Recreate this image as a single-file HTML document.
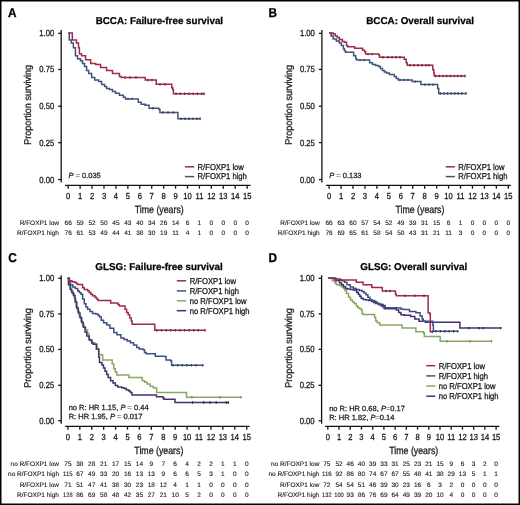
<!DOCTYPE html>
<html><head><meta charset="utf-8"><style>
html,body{margin:0;padding:0;background:#fff;width:520px;height:505px;overflow:hidden}
svg text{font-family:"Liberation Sans", sans-serif; text-rendering:geometricPrecision}
</style></head><body>
<svg width="520" height="505" viewBox="0 0 520 505" style="display:block;filter:blur(0.3px)">
<g font-family='"Liberation Sans", sans-serif' stroke-width="0.25">
<rect x="0" y="0" width="520" height="505" fill="#fff"/>
<text x="0.00" y="0.00" font-size="11.8" font-weight="bold" fill="#000" stroke="#000" transform="translate(7.90,16.60) scale(1,1.08)">A</text>
<text x="0.00" y="0.00" font-size="11.8" font-weight="bold" fill="#000" stroke="#000" transform="translate(268.60,16.60) scale(1,1.08)">B</text>
<text x="0.00" y="0.00" font-size="11.8" font-weight="bold" fill="#000" stroke="#000" transform="translate(8.30,261.60) scale(1,1.08)">C</text>
<text x="0.00" y="0.00" font-size="11.8" font-weight="bold" fill="#000" stroke="#000" transform="translate(268.60,261.60) scale(1,1.08)">D</text>
<text x="95.70" y="24.40" font-size="9.9" font-weight="bold" fill="#000" stroke="#000" textLength="127.4" lengthAdjust="spacingAndGlyphs">BCCA: Failure-free survival</text>
<text x="366.20" y="24.40" font-size="9.9" font-weight="bold" fill="#000" stroke="#000" textLength="107.8" lengthAdjust="spacingAndGlyphs">BCCA: Overall survival</text>
<text x="95.30" y="269.50" font-size="9.9" font-weight="bold" fill="#000" stroke="#000" textLength="127.4" lengthAdjust="spacingAndGlyphs">GLSG: Failure-free survival</text>
<text x="360.30" y="269.50" font-size="9.9" font-weight="bold" fill="#000" stroke="#000" textLength="106.9" lengthAdjust="spacingAndGlyphs">GLSG: Overall survival</text>
<line x1="61.2" y1="30.1" x2="61.2" y2="182.5" stroke="#111" stroke-width="1.3"/>
<line x1="58.2" y1="179.55" x2="61.2" y2="179.55" stroke="#111" stroke-width="1.3"/>
<text x="0.00" y="0.00" font-size="7.7" text-anchor="end" fill="#1a1a1a" stroke="#1a1a1a" transform="translate(54.20,182.55) scale(1,1.15)">0.00</text>
<line x1="58.2" y1="142.65" x2="61.2" y2="142.65" stroke="#111" stroke-width="1.3"/>
<text x="0.00" y="0.00" font-size="7.7" text-anchor="end" fill="#1a1a1a" stroke="#1a1a1a" transform="translate(54.20,145.65) scale(1,1.15)">0.25</text>
<line x1="58.2" y1="106.20" x2="61.2" y2="106.20" stroke="#111" stroke-width="1.3"/>
<text x="0.00" y="0.00" font-size="7.7" text-anchor="end" fill="#1a1a1a" stroke="#1a1a1a" transform="translate(54.20,109.20) scale(1,1.15)">0.50</text>
<line x1="58.2" y1="69.45" x2="61.2" y2="69.45" stroke="#111" stroke-width="1.3"/>
<text x="0.00" y="0.00" font-size="7.7" text-anchor="end" fill="#1a1a1a" stroke="#1a1a1a" transform="translate(54.20,72.45) scale(1,1.15)">0.75</text>
<line x1="58.2" y1="33.35" x2="61.2" y2="33.35" stroke="#111" stroke-width="1.3"/>
<text x="0.00" y="0.00" font-size="7.7" text-anchor="end" fill="#1a1a1a" stroke="#1a1a1a" transform="translate(54.20,36.35) scale(1,1.15)">1.00</text>
<line x1="65.0" y1="185.45" x2="250.5" y2="185.45" stroke="#111" stroke-width="1.3"/>
<line x1="68.20" y1="185.45" x2="68.20" y2="188.64999999999998" stroke="#111" stroke-width="1.3"/>
<text x="0.00" y="0.00" font-size="7.6" text-anchor="middle" fill="#1a1a1a" stroke="#1a1a1a" transform="translate(68.20,198.85) scale(1,1.15)">0</text>
<line x1="80.13" y1="185.45" x2="80.13" y2="188.64999999999998" stroke="#111" stroke-width="1.3"/>
<text x="0.00" y="0.00" font-size="7.6" text-anchor="middle" fill="#1a1a1a" stroke="#1a1a1a" transform="translate(80.13,198.85) scale(1,1.15)">1</text>
<line x1="92.06" y1="185.45" x2="92.06" y2="188.64999999999998" stroke="#111" stroke-width="1.3"/>
<text x="0.00" y="0.00" font-size="7.6" text-anchor="middle" fill="#1a1a1a" stroke="#1a1a1a" transform="translate(92.06,198.85) scale(1,1.15)">2</text>
<line x1="103.99" y1="185.45" x2="103.99" y2="188.64999999999998" stroke="#111" stroke-width="1.3"/>
<text x="0.00" y="0.00" font-size="7.6" text-anchor="middle" fill="#1a1a1a" stroke="#1a1a1a" transform="translate(103.99,198.85) scale(1,1.15)">3</text>
<line x1="115.92" y1="185.45" x2="115.92" y2="188.64999999999998" stroke="#111" stroke-width="1.3"/>
<text x="0.00" y="0.00" font-size="7.6" text-anchor="middle" fill="#1a1a1a" stroke="#1a1a1a" transform="translate(115.92,198.85) scale(1,1.15)">4</text>
<line x1="127.85" y1="185.45" x2="127.85" y2="188.64999999999998" stroke="#111" stroke-width="1.3"/>
<text x="0.00" y="0.00" font-size="7.6" text-anchor="middle" fill="#1a1a1a" stroke="#1a1a1a" transform="translate(127.85,198.85) scale(1,1.15)">5</text>
<line x1="139.78" y1="185.45" x2="139.78" y2="188.64999999999998" stroke="#111" stroke-width="1.3"/>
<text x="0.00" y="0.00" font-size="7.6" text-anchor="middle" fill="#1a1a1a" stroke="#1a1a1a" transform="translate(139.78,198.85) scale(1,1.15)">6</text>
<line x1="151.71" y1="185.45" x2="151.71" y2="188.64999999999998" stroke="#111" stroke-width="1.3"/>
<text x="0.00" y="0.00" font-size="7.6" text-anchor="middle" fill="#1a1a1a" stroke="#1a1a1a" transform="translate(151.71,198.85) scale(1,1.15)">7</text>
<line x1="163.64" y1="185.45" x2="163.64" y2="188.64999999999998" stroke="#111" stroke-width="1.3"/>
<text x="0.00" y="0.00" font-size="7.6" text-anchor="middle" fill="#1a1a1a" stroke="#1a1a1a" transform="translate(163.64,198.85) scale(1,1.15)">8</text>
<line x1="175.57" y1="185.45" x2="175.57" y2="188.64999999999998" stroke="#111" stroke-width="1.3"/>
<text x="0.00" y="0.00" font-size="7.6" text-anchor="middle" fill="#1a1a1a" stroke="#1a1a1a" transform="translate(175.57,198.85) scale(1,1.15)">9</text>
<line x1="187.50" y1="185.45" x2="187.50" y2="188.64999999999998" stroke="#111" stroke-width="1.3"/>
<text x="0.00" y="0.00" font-size="7.6" text-anchor="middle" fill="#1a1a1a" stroke="#1a1a1a" transform="translate(187.50,198.85) scale(1,1.15)">10</text>
<line x1="199.43" y1="185.45" x2="199.43" y2="188.64999999999998" stroke="#111" stroke-width="1.3"/>
<text x="0.00" y="0.00" font-size="7.6" text-anchor="middle" fill="#1a1a1a" stroke="#1a1a1a" transform="translate(199.43,198.85) scale(1,1.15)">11</text>
<line x1="211.36" y1="185.45" x2="211.36" y2="188.64999999999998" stroke="#111" stroke-width="1.3"/>
<text x="0.00" y="0.00" font-size="7.6" text-anchor="middle" fill="#1a1a1a" stroke="#1a1a1a" transform="translate(211.36,198.85) scale(1,1.15)">12</text>
<line x1="223.29" y1="185.45" x2="223.29" y2="188.64999999999998" stroke="#111" stroke-width="1.3"/>
<text x="0.00" y="0.00" font-size="7.6" text-anchor="middle" fill="#1a1a1a" stroke="#1a1a1a" transform="translate(223.29,198.85) scale(1,1.15)">13</text>
<line x1="235.22" y1="185.45" x2="235.22" y2="188.64999999999998" stroke="#111" stroke-width="1.3"/>
<text x="0.00" y="0.00" font-size="7.6" text-anchor="middle" fill="#1a1a1a" stroke="#1a1a1a" transform="translate(235.22,198.85) scale(1,1.15)">14</text>
<line x1="247.15" y1="185.45" x2="247.15" y2="188.64999999999998" stroke="#111" stroke-width="1.3"/>
<text x="0.00" y="0.00" font-size="7.6" text-anchor="middle" fill="#1a1a1a" stroke="#1a1a1a" transform="translate(247.15,198.85) scale(1,1.15)">15</text>
<text x="0.00" y="0.00" font-size="8.8" text-anchor="middle" fill="#1a1a1a" stroke="#1a1a1a" transform="translate(159.25,212.55) scale(1,1.18)">Time (years)</text>
<text x="0" y="0" font-size="9.0" text-anchor="middle" fill="#1a1a1a" stroke="#1a1a1a" transform="translate(31.40,104.88) rotate(-90) scale(1,1.1)">Proportion surviving</text>
<line x1="321.9" y1="30.1" x2="321.9" y2="182.5" stroke="#111" stroke-width="1.3"/>
<line x1="318.9" y1="179.55" x2="321.9" y2="179.55" stroke="#111" stroke-width="1.3"/>
<text x="0.00" y="0.00" font-size="7.7" text-anchor="end" fill="#1a1a1a" stroke="#1a1a1a" transform="translate(314.90,182.55) scale(1,1.15)">0.00</text>
<line x1="318.9" y1="142.65" x2="321.9" y2="142.65" stroke="#111" stroke-width="1.3"/>
<text x="0.00" y="0.00" font-size="7.7" text-anchor="end" fill="#1a1a1a" stroke="#1a1a1a" transform="translate(314.90,145.65) scale(1,1.15)">0.25</text>
<line x1="318.9" y1="106.20" x2="321.9" y2="106.20" stroke="#111" stroke-width="1.3"/>
<text x="0.00" y="0.00" font-size="7.7" text-anchor="end" fill="#1a1a1a" stroke="#1a1a1a" transform="translate(314.90,109.20) scale(1,1.15)">0.50</text>
<line x1="318.9" y1="69.45" x2="321.9" y2="69.45" stroke="#111" stroke-width="1.3"/>
<text x="0.00" y="0.00" font-size="7.7" text-anchor="end" fill="#1a1a1a" stroke="#1a1a1a" transform="translate(314.90,72.45) scale(1,1.15)">0.75</text>
<line x1="318.9" y1="33.35" x2="321.9" y2="33.35" stroke="#111" stroke-width="1.3"/>
<text x="0.00" y="0.00" font-size="7.7" text-anchor="end" fill="#1a1a1a" stroke="#1a1a1a" transform="translate(314.90,36.35) scale(1,1.15)">1.00</text>
<line x1="325.9" y1="185.45" x2="510.9" y2="185.45" stroke="#111" stroke-width="1.3"/>
<line x1="329.10" y1="185.45" x2="329.10" y2="188.64999999999998" stroke="#111" stroke-width="1.3"/>
<text x="0.00" y="0.00" font-size="7.6" text-anchor="middle" fill="#1a1a1a" stroke="#1a1a1a" transform="translate(329.10,198.85) scale(1,1.15)">0</text>
<line x1="341.05" y1="185.45" x2="341.05" y2="188.64999999999998" stroke="#111" stroke-width="1.3"/>
<text x="0.00" y="0.00" font-size="7.6" text-anchor="middle" fill="#1a1a1a" stroke="#1a1a1a" transform="translate(341.05,198.85) scale(1,1.15)">1</text>
<line x1="352.99" y1="185.45" x2="352.99" y2="188.64999999999998" stroke="#111" stroke-width="1.3"/>
<text x="0.00" y="0.00" font-size="7.6" text-anchor="middle" fill="#1a1a1a" stroke="#1a1a1a" transform="translate(352.99,198.85) scale(1,1.15)">2</text>
<line x1="364.94" y1="185.45" x2="364.94" y2="188.64999999999998" stroke="#111" stroke-width="1.3"/>
<text x="0.00" y="0.00" font-size="7.6" text-anchor="middle" fill="#1a1a1a" stroke="#1a1a1a" transform="translate(364.94,198.85) scale(1,1.15)">3</text>
<line x1="376.89" y1="185.45" x2="376.89" y2="188.64999999999998" stroke="#111" stroke-width="1.3"/>
<text x="0.00" y="0.00" font-size="7.6" text-anchor="middle" fill="#1a1a1a" stroke="#1a1a1a" transform="translate(376.89,198.85) scale(1,1.15)">4</text>
<line x1="388.84" y1="185.45" x2="388.84" y2="188.64999999999998" stroke="#111" stroke-width="1.3"/>
<text x="0.00" y="0.00" font-size="7.6" text-anchor="middle" fill="#1a1a1a" stroke="#1a1a1a" transform="translate(388.84,198.85) scale(1,1.15)">5</text>
<line x1="400.78" y1="185.45" x2="400.78" y2="188.64999999999998" stroke="#111" stroke-width="1.3"/>
<text x="0.00" y="0.00" font-size="7.6" text-anchor="middle" fill="#1a1a1a" stroke="#1a1a1a" transform="translate(400.78,198.85) scale(1,1.15)">6</text>
<line x1="412.73" y1="185.45" x2="412.73" y2="188.64999999999998" stroke="#111" stroke-width="1.3"/>
<text x="0.00" y="0.00" font-size="7.6" text-anchor="middle" fill="#1a1a1a" stroke="#1a1a1a" transform="translate(412.73,198.85) scale(1,1.15)">7</text>
<line x1="424.68" y1="185.45" x2="424.68" y2="188.64999999999998" stroke="#111" stroke-width="1.3"/>
<text x="0.00" y="0.00" font-size="7.6" text-anchor="middle" fill="#1a1a1a" stroke="#1a1a1a" transform="translate(424.68,198.85) scale(1,1.15)">8</text>
<line x1="436.62" y1="185.45" x2="436.62" y2="188.64999999999998" stroke="#111" stroke-width="1.3"/>
<text x="0.00" y="0.00" font-size="7.6" text-anchor="middle" fill="#1a1a1a" stroke="#1a1a1a" transform="translate(436.62,198.85) scale(1,1.15)">9</text>
<line x1="448.57" y1="185.45" x2="448.57" y2="188.64999999999998" stroke="#111" stroke-width="1.3"/>
<text x="0.00" y="0.00" font-size="7.6" text-anchor="middle" fill="#1a1a1a" stroke="#1a1a1a" transform="translate(448.57,198.85) scale(1,1.15)">10</text>
<line x1="460.52" y1="185.45" x2="460.52" y2="188.64999999999998" stroke="#111" stroke-width="1.3"/>
<text x="0.00" y="0.00" font-size="7.6" text-anchor="middle" fill="#1a1a1a" stroke="#1a1a1a" transform="translate(460.52,198.85) scale(1,1.15)">11</text>
<line x1="472.46" y1="185.45" x2="472.46" y2="188.64999999999998" stroke="#111" stroke-width="1.3"/>
<text x="0.00" y="0.00" font-size="7.6" text-anchor="middle" fill="#1a1a1a" stroke="#1a1a1a" transform="translate(472.46,198.85) scale(1,1.15)">12</text>
<line x1="484.41" y1="185.45" x2="484.41" y2="188.64999999999998" stroke="#111" stroke-width="1.3"/>
<text x="0.00" y="0.00" font-size="7.6" text-anchor="middle" fill="#1a1a1a" stroke="#1a1a1a" transform="translate(484.41,198.85) scale(1,1.15)">13</text>
<line x1="496.36" y1="185.45" x2="496.36" y2="188.64999999999998" stroke="#111" stroke-width="1.3"/>
<text x="0.00" y="0.00" font-size="7.6" text-anchor="middle" fill="#1a1a1a" stroke="#1a1a1a" transform="translate(496.36,198.85) scale(1,1.15)">14</text>
<line x1="508.31" y1="185.45" x2="508.31" y2="188.64999999999998" stroke="#111" stroke-width="1.3"/>
<text x="0.00" y="0.00" font-size="7.6" text-anchor="middle" fill="#1a1a1a" stroke="#1a1a1a" transform="translate(508.31,198.85) scale(1,1.15)">15</text>
<text x="0.00" y="0.00" font-size="8.8" text-anchor="middle" fill="#1a1a1a" stroke="#1a1a1a" transform="translate(419.90,212.55) scale(1,1.18)">Time (years)</text>
<text x="0" y="0" font-size="9.0" text-anchor="middle" fill="#1a1a1a" stroke="#1a1a1a" transform="translate(292.10,104.88) rotate(-90) scale(1,1.1)">Proportion surviving</text>
<line x1="61.2" y1="275.2" x2="61.2" y2="423.7" stroke="#111" stroke-width="1.3"/>
<line x1="58.2" y1="420.75" x2="61.2" y2="420.75" stroke="#111" stroke-width="1.3"/>
<text x="0.00" y="0.00" font-size="7.7" text-anchor="end" fill="#1a1a1a" stroke="#1a1a1a" transform="translate(54.20,423.75) scale(1,1.15)">0.00</text>
<line x1="58.2" y1="385.30" x2="61.2" y2="385.30" stroke="#111" stroke-width="1.3"/>
<text x="0.00" y="0.00" font-size="7.7" text-anchor="end" fill="#1a1a1a" stroke="#1a1a1a" transform="translate(54.20,388.30) scale(1,1.15)">0.25</text>
<line x1="58.2" y1="349.40" x2="61.2" y2="349.40" stroke="#111" stroke-width="1.3"/>
<text x="0.00" y="0.00" font-size="7.7" text-anchor="end" fill="#1a1a1a" stroke="#1a1a1a" transform="translate(54.20,352.40) scale(1,1.15)">0.50</text>
<line x1="58.2" y1="313.90" x2="61.2" y2="313.90" stroke="#111" stroke-width="1.3"/>
<text x="0.00" y="0.00" font-size="7.7" text-anchor="end" fill="#1a1a1a" stroke="#1a1a1a" transform="translate(54.20,316.90) scale(1,1.15)">0.75</text>
<line x1="58.2" y1="278.30" x2="61.2" y2="278.30" stroke="#111" stroke-width="1.3"/>
<text x="0.00" y="0.00" font-size="7.7" text-anchor="end" fill="#1a1a1a" stroke="#1a1a1a" transform="translate(54.20,281.30) scale(1,1.15)">1.00</text>
<line x1="65.1" y1="426.45" x2="249.6" y2="426.45" stroke="#111" stroke-width="1.3"/>
<line x1="67.90" y1="426.45" x2="67.90" y2="429.65" stroke="#111" stroke-width="1.3"/>
<text x="0.00" y="0.00" font-size="7.6" text-anchor="middle" fill="#1a1a1a" stroke="#1a1a1a" transform="translate(67.90,439.85) scale(1,1.15)">0</text>
<line x1="79.82" y1="426.45" x2="79.82" y2="429.65" stroke="#111" stroke-width="1.3"/>
<text x="0.00" y="0.00" font-size="7.6" text-anchor="middle" fill="#1a1a1a" stroke="#1a1a1a" transform="translate(79.82,439.85) scale(1,1.15)">1</text>
<line x1="91.74" y1="426.45" x2="91.74" y2="429.65" stroke="#111" stroke-width="1.3"/>
<text x="0.00" y="0.00" font-size="7.6" text-anchor="middle" fill="#1a1a1a" stroke="#1a1a1a" transform="translate(91.74,439.85) scale(1,1.15)">2</text>
<line x1="103.66" y1="426.45" x2="103.66" y2="429.65" stroke="#111" stroke-width="1.3"/>
<text x="0.00" y="0.00" font-size="7.6" text-anchor="middle" fill="#1a1a1a" stroke="#1a1a1a" transform="translate(103.66,439.85) scale(1,1.15)">3</text>
<line x1="115.58" y1="426.45" x2="115.58" y2="429.65" stroke="#111" stroke-width="1.3"/>
<text x="0.00" y="0.00" font-size="7.6" text-anchor="middle" fill="#1a1a1a" stroke="#1a1a1a" transform="translate(115.58,439.85) scale(1,1.15)">4</text>
<line x1="127.50" y1="426.45" x2="127.50" y2="429.65" stroke="#111" stroke-width="1.3"/>
<text x="0.00" y="0.00" font-size="7.6" text-anchor="middle" fill="#1a1a1a" stroke="#1a1a1a" transform="translate(127.50,439.85) scale(1,1.15)">5</text>
<line x1="139.42" y1="426.45" x2="139.42" y2="429.65" stroke="#111" stroke-width="1.3"/>
<text x="0.00" y="0.00" font-size="7.6" text-anchor="middle" fill="#1a1a1a" stroke="#1a1a1a" transform="translate(139.42,439.85) scale(1,1.15)">6</text>
<line x1="151.34" y1="426.45" x2="151.34" y2="429.65" stroke="#111" stroke-width="1.3"/>
<text x="0.00" y="0.00" font-size="7.6" text-anchor="middle" fill="#1a1a1a" stroke="#1a1a1a" transform="translate(151.34,439.85) scale(1,1.15)">7</text>
<line x1="163.26" y1="426.45" x2="163.26" y2="429.65" stroke="#111" stroke-width="1.3"/>
<text x="0.00" y="0.00" font-size="7.6" text-anchor="middle" fill="#1a1a1a" stroke="#1a1a1a" transform="translate(163.26,439.85) scale(1,1.15)">8</text>
<line x1="175.18" y1="426.45" x2="175.18" y2="429.65" stroke="#111" stroke-width="1.3"/>
<text x="0.00" y="0.00" font-size="7.6" text-anchor="middle" fill="#1a1a1a" stroke="#1a1a1a" transform="translate(175.18,439.85) scale(1,1.15)">9</text>
<line x1="187.10" y1="426.45" x2="187.10" y2="429.65" stroke="#111" stroke-width="1.3"/>
<text x="0.00" y="0.00" font-size="7.6" text-anchor="middle" fill="#1a1a1a" stroke="#1a1a1a" transform="translate(187.10,439.85) scale(1,1.15)">10</text>
<line x1="199.02" y1="426.45" x2="199.02" y2="429.65" stroke="#111" stroke-width="1.3"/>
<text x="0.00" y="0.00" font-size="7.6" text-anchor="middle" fill="#1a1a1a" stroke="#1a1a1a" transform="translate(199.02,439.85) scale(1,1.15)">11</text>
<line x1="210.94" y1="426.45" x2="210.94" y2="429.65" stroke="#111" stroke-width="1.3"/>
<text x="0.00" y="0.00" font-size="7.6" text-anchor="middle" fill="#1a1a1a" stroke="#1a1a1a" transform="translate(210.94,439.85) scale(1,1.15)">12</text>
<line x1="222.86" y1="426.45" x2="222.86" y2="429.65" stroke="#111" stroke-width="1.3"/>
<text x="0.00" y="0.00" font-size="7.6" text-anchor="middle" fill="#1a1a1a" stroke="#1a1a1a" transform="translate(222.86,439.85) scale(1,1.15)">13</text>
<line x1="234.78" y1="426.45" x2="234.78" y2="429.65" stroke="#111" stroke-width="1.3"/>
<text x="0.00" y="0.00" font-size="7.6" text-anchor="middle" fill="#1a1a1a" stroke="#1a1a1a" transform="translate(234.78,439.85) scale(1,1.15)">14</text>
<line x1="246.70" y1="426.45" x2="246.70" y2="429.65" stroke="#111" stroke-width="1.3"/>
<text x="0.00" y="0.00" font-size="7.6" text-anchor="middle" fill="#1a1a1a" stroke="#1a1a1a" transform="translate(246.70,439.85) scale(1,1.15)">15</text>
<text x="0.00" y="0.00" font-size="8.8" text-anchor="middle" fill="#1a1a1a" stroke="#1a1a1a" transform="translate(158.85,453.55) scale(1,1.18)">Time (years)</text>
<text x="0" y="0" font-size="9.0" text-anchor="middle" fill="#1a1a1a" stroke="#1a1a1a" transform="translate(31.40,348.00) rotate(-90) scale(1,1.1)">Proportion surviving</text>
<line x1="321.6" y1="275.2" x2="321.6" y2="423.7" stroke="#111" stroke-width="1.3"/>
<line x1="318.6" y1="420.75" x2="321.6" y2="420.75" stroke="#111" stroke-width="1.3"/>
<text x="0.00" y="0.00" font-size="7.7" text-anchor="end" fill="#1a1a1a" stroke="#1a1a1a" transform="translate(314.60,423.75) scale(1,1.15)">0.00</text>
<line x1="318.6" y1="385.30" x2="321.6" y2="385.30" stroke="#111" stroke-width="1.3"/>
<text x="0.00" y="0.00" font-size="7.7" text-anchor="end" fill="#1a1a1a" stroke="#1a1a1a" transform="translate(314.60,388.30) scale(1,1.15)">0.25</text>
<line x1="318.6" y1="349.40" x2="321.6" y2="349.40" stroke="#111" stroke-width="1.3"/>
<text x="0.00" y="0.00" font-size="7.7" text-anchor="end" fill="#1a1a1a" stroke="#1a1a1a" transform="translate(314.60,352.40) scale(1,1.15)">0.50</text>
<line x1="318.6" y1="313.90" x2="321.6" y2="313.90" stroke="#111" stroke-width="1.3"/>
<text x="0.00" y="0.00" font-size="7.7" text-anchor="end" fill="#1a1a1a" stroke="#1a1a1a" transform="translate(314.60,316.90) scale(1,1.15)">0.75</text>
<line x1="318.6" y1="278.30" x2="321.6" y2="278.30" stroke="#111" stroke-width="1.3"/>
<text x="0.00" y="0.00" font-size="7.7" text-anchor="end" fill="#1a1a1a" stroke="#1a1a1a" transform="translate(314.60,281.30) scale(1,1.15)">1.00</text>
<line x1="325.1" y1="426.45" x2="499.4" y2="426.45" stroke="#111" stroke-width="1.3"/>
<line x1="327.80" y1="426.45" x2="327.80" y2="429.65" stroke="#111" stroke-width="1.3"/>
<text x="0.00" y="0.00" font-size="7.6" text-anchor="middle" fill="#1a1a1a" stroke="#1a1a1a" transform="translate(327.80,439.85) scale(1,1.15)">0</text>
<line x1="339.02" y1="426.45" x2="339.02" y2="429.65" stroke="#111" stroke-width="1.3"/>
<text x="0.00" y="0.00" font-size="7.6" text-anchor="middle" fill="#1a1a1a" stroke="#1a1a1a" transform="translate(339.02,439.85) scale(1,1.15)">1</text>
<line x1="350.24" y1="426.45" x2="350.24" y2="429.65" stroke="#111" stroke-width="1.3"/>
<text x="0.00" y="0.00" font-size="7.6" text-anchor="middle" fill="#1a1a1a" stroke="#1a1a1a" transform="translate(350.24,439.85) scale(1,1.15)">2</text>
<line x1="361.46" y1="426.45" x2="361.46" y2="429.65" stroke="#111" stroke-width="1.3"/>
<text x="0.00" y="0.00" font-size="7.6" text-anchor="middle" fill="#1a1a1a" stroke="#1a1a1a" transform="translate(361.46,439.85) scale(1,1.15)">3</text>
<line x1="372.68" y1="426.45" x2="372.68" y2="429.65" stroke="#111" stroke-width="1.3"/>
<text x="0.00" y="0.00" font-size="7.6" text-anchor="middle" fill="#1a1a1a" stroke="#1a1a1a" transform="translate(372.68,439.85) scale(1,1.15)">4</text>
<line x1="383.90" y1="426.45" x2="383.90" y2="429.65" stroke="#111" stroke-width="1.3"/>
<text x="0.00" y="0.00" font-size="7.6" text-anchor="middle" fill="#1a1a1a" stroke="#1a1a1a" transform="translate(383.90,439.85) scale(1,1.15)">5</text>
<line x1="395.12" y1="426.45" x2="395.12" y2="429.65" stroke="#111" stroke-width="1.3"/>
<text x="0.00" y="0.00" font-size="7.6" text-anchor="middle" fill="#1a1a1a" stroke="#1a1a1a" transform="translate(395.12,439.85) scale(1,1.15)">6</text>
<line x1="406.34" y1="426.45" x2="406.34" y2="429.65" stroke="#111" stroke-width="1.3"/>
<text x="0.00" y="0.00" font-size="7.6" text-anchor="middle" fill="#1a1a1a" stroke="#1a1a1a" transform="translate(406.34,439.85) scale(1,1.15)">7</text>
<line x1="417.56" y1="426.45" x2="417.56" y2="429.65" stroke="#111" stroke-width="1.3"/>
<text x="0.00" y="0.00" font-size="7.6" text-anchor="middle" fill="#1a1a1a" stroke="#1a1a1a" transform="translate(417.56,439.85) scale(1,1.15)">8</text>
<line x1="428.78" y1="426.45" x2="428.78" y2="429.65" stroke="#111" stroke-width="1.3"/>
<text x="0.00" y="0.00" font-size="7.6" text-anchor="middle" fill="#1a1a1a" stroke="#1a1a1a" transform="translate(428.78,439.85) scale(1,1.15)">9</text>
<line x1="440.00" y1="426.45" x2="440.00" y2="429.65" stroke="#111" stroke-width="1.3"/>
<text x="0.00" y="0.00" font-size="7.6" text-anchor="middle" fill="#1a1a1a" stroke="#1a1a1a" transform="translate(440.00,439.85) scale(1,1.15)">10</text>
<line x1="451.22" y1="426.45" x2="451.22" y2="429.65" stroke="#111" stroke-width="1.3"/>
<text x="0.00" y="0.00" font-size="7.6" text-anchor="middle" fill="#1a1a1a" stroke="#1a1a1a" transform="translate(451.22,439.85) scale(1,1.15)">11</text>
<line x1="462.44" y1="426.45" x2="462.44" y2="429.65" stroke="#111" stroke-width="1.3"/>
<text x="0.00" y="0.00" font-size="7.6" text-anchor="middle" fill="#1a1a1a" stroke="#1a1a1a" transform="translate(462.44,439.85) scale(1,1.15)">12</text>
<line x1="473.66" y1="426.45" x2="473.66" y2="429.65" stroke="#111" stroke-width="1.3"/>
<text x="0.00" y="0.00" font-size="7.6" text-anchor="middle" fill="#1a1a1a" stroke="#1a1a1a" transform="translate(473.66,439.85) scale(1,1.15)">13</text>
<line x1="484.88" y1="426.45" x2="484.88" y2="429.65" stroke="#111" stroke-width="1.3"/>
<text x="0.00" y="0.00" font-size="7.6" text-anchor="middle" fill="#1a1a1a" stroke="#1a1a1a" transform="translate(484.88,439.85) scale(1,1.15)">14</text>
<line x1="496.10" y1="426.45" x2="496.10" y2="429.65" stroke="#111" stroke-width="1.3"/>
<text x="0.00" y="0.00" font-size="7.6" text-anchor="middle" fill="#1a1a1a" stroke="#1a1a1a" transform="translate(496.10,439.85) scale(1,1.15)">15</text>
<text x="0.00" y="0.00" font-size="8.8" text-anchor="middle" fill="#1a1a1a" stroke="#1a1a1a" transform="translate(413.75,453.55) scale(1,1.18)">Time (years)</text>
<text x="0" y="0" font-size="9.0" text-anchor="middle" fill="#1a1a1a" stroke="#1a1a1a" transform="translate(291.80,348.00) rotate(-90) scale(1,1.1)">Proportion surviving</text>
<path d="M68.30,32.95H69.27V39.90H71.33V42.90H73.38V47.80H75.43V55.70H77.48V58.70H80.46V60.70H82.51V63.60H84.56V66.60H86.61V70.60H88.67V73.50H91.64V77.50H94.70V79.90H98.70V81.50H101.60V84.40H104.60V86.40H106.60V88.40H109.50V89.40H112.50V91.40H115.50V93.30H119.40V95.30H123.40V97.30H125.40V98.90H135.30V98.90H138.30V102.30H141.20V104.20H145.20V105.20H149.10V108.20H158.90V109.50H159.90V112.50H177.70V112.50H177.90V118.80H200.50V118.80" fill="none" stroke="#42527a" stroke-width="1.5" stroke-linejoin="miter"/>
<path d="M68.30,32.95H71.33V32.95H72.35V39.90H75.43V39.90H76.46V42.90H78.51V47.80H79.43V53.70H81.48V55.70H85.59V59.70H89.59V59.70H90.62V63.60H95.70V64.60H100.60V67.60H106.60V70.60H112.50V73.50H119.40V76.50H121.40V77.50H143.20V77.50H145.20V80.00H155.90V80.00H156.20V84.20H171.40V84.20H171.80V87.70H172.80V89.70H173.40V93.70H204.50V93.70" fill="none" stroke="#a02a4a" stroke-width="1.5" stroke-linejoin="miter"/>
<path d="M329.10,32.95H331.12V35.90H333.18V38.90H336.29V40.90H339.39V42.90H341.35V45.40H343.42V48.80H344.45V50.80H345.49V52.20H352.62V52.20H353.66V55.70H355.70V58.70H356.70V60.10H367.60V60.10H369.60V62.70H372.50V64.60H375.50V65.60H378.50V66.60H380.40V68.60H382.40V70.60H384.40V72.00H386.40V73.10H389.40V74.50H393.30V74.50H394.30V76.50H396.30V78.50H398.30V79.90H410.10V79.90H412.10V81.60H419.90V81.60H420.90V84.60H436.70V84.60H437.70V88.50H438.70V93.50H466.40V93.50" fill="none" stroke="#42527a" stroke-width="1.5" stroke-linejoin="miter"/>
<path d="M329.10,32.95H333.18V33.90H335.25V35.90H337.32V37.50H339.39V39.50H342.39V41.50H344.45V42.30H346.52V45.40H347.56V46.80H353.66V46.80H354.69V48.20H360.60V48.20H362.60V50.20H364.60V51.80H365.60V54.10H378.50V54.70H379.50V57.30H403.20V57.30H404.20V59.30H406.20V62.70H407.20V65.20H432.20V65.30H432.80V69.70H433.80V72.70H434.20V76.00H465.40V76.00" fill="none" stroke="#a02a4a" stroke-width="1.5" stroke-linejoin="miter"/>
<path d="M67.70,278.20H69.27V286.10H70.94V290.80H72.61V294.00H74.28V298.80H75.95V306.70H77.62V311.40H79.18V316.20H80.85V320.90H82.52V325.70H84.20V327.30H85.87V329.70H87.54V333.60H89.10V338.40H89.83V340.30H92.34V342.70H94.80V344.30H97.10V349.00H98.70V354.60H101.90V355.30H102.70V360.10H110.60V360.10H112.20V364.10H113.80V368.80H115.30V372.00H116.90V375.10H128.00V375.10H128.80V377.50H140.70V377.50H142.30V380.70H144.70V382.30H147.00V383.90H150.20V386.20H153.40V388.10H155.80V388.10H156.70V392.50H185.60V392.50H186.50V397.30H241.30V397.30" fill="none" stroke="#88a865" stroke-width="1.5" stroke-linejoin="miter"/>
<path d="M67.70,278.20H68.43V284.50H70.10V289.30H71.77V292.40H73.44V295.60H75.11V301.90H76.78V308.30H78.35V313.00H80.02V317.80H81.69V322.50H83.36V327.30H85.03V332.00H86.70V336.00H89.10V340.00H91.61V343.10H93.17V344.30H96.30V349.00H98.70V356.90H99.50V362.50H101.90V364.90H103.50V368.00H105.00V371.20H106.60V374.40H108.20V377.50H110.60V380.70H113.00V383.10H115.30V385.40H117.70V387.00H121.70V387.80H124.10V388.60H126.40V389.90H128.80V391.00H130.40V392.60H132.00V395.00H153.40V395.00H156.50V396.80H162.90V397.70H163.80V399.20H174.00V399.20H175.00V402.50H228.80V402.50" fill="none" stroke="#46306e" stroke-width="1.5" stroke-linejoin="miter"/>
<path d="M67.50,278.30H68.64V281.50H70.30V284.70H72.78V287.00H75.27V288.60H77.76V291.00H79.31V292.60H80.97V294.20H82.63V298.90H84.28V303.70H85.94V306.90H87.60V309.20H89.98V311.60H92.47V313.50H95.70V314.00H98.10V315.60H99.60V317.10H101.20V320.30H103.60V322.70H106.80V325.10H109.90V328.20H113.80V332.40H116.90V334.80H120.90V337.90H124.10V339.50H127.20V341.10H130.40V342.70H133.60V345.00H136.70V347.40H139.10V349.00H143.10V349.80H144.50V352.50H146.20V353.80H153.40V353.80H155.30V356.20H164.50V356.40H166.00V359.90H170.50V360.80H171.60V365.20H203.20V365.20" fill="none" stroke="#3b5084" stroke-width="1.5" stroke-linejoin="miter"/>
<path d="M67.50,278.30H69.47V280.70H71.95V281.80H74.44V282.30H76.10V283.40H77.76V284.40H80.97V284.40H82.63V287.80H84.28V289.40H87.60V290.70H89.15V292.60H90.81V294.20H92.47V295.80H94.90V297.30H96.50V298.90H98.10V300.50H109.90V300.50H110.70V302.90H116.30V302.90H117.90V304.50H119.40V306.10H124.20V306.10H125.00V309.20H126.60V312.40H128.20V314.80H129.70V317.90H131.30V321.10H132.10V324.30H154.20V324.40H154.80V330.30H205.40V330.30" fill="none" stroke="#a02a4a" stroke-width="1.5" stroke-linejoin="miter"/>
<path d="M328.30,278.30H332.31V280.70H334.78V283.10H336.42V284.70H339.61V285.50H341.56V286.70H343.51V288.60H345.06V290.50H346.50V293.40H348.55V297.20H350.50V300.10H352.46V302.00H354.40V303.50H356.30V305.90H357.80V307.80H359.70V308.80H361.20V309.70H362.10V313.60H363.10V314.50H373.70V314.50H374.60V317.40H375.70V321.10H377.30V322.70H379.70V325.10H401.00V325.10H402.10V327.90H414.80V327.90H415.90V331.70H423.30V332.80H424.30V336.40H439.10V336.40H440.20V341.30H492.00V341.30" fill="none" stroke="#88a865" stroke-width="1.5" stroke-linejoin="miter"/>
<path d="M328.30,278.30H335.60V280.70H339.61V283.10H341.56V284.70H343.51V286.70H345.57V288.60H347.52V289.10H350.50V289.50H353.49V290.00H355.40V290.50H356.80V292.40H358.30V294.30H359.70V296.30H361.20V298.20H363.10V299.60H366.00V300.10H368.80V300.60H371.70V301.60H373.70V302.50H375.60V303.50H378.50V304.40H380.40V305.40H382.30V306.80H384.20V308.80H396.30V310.00H398.70V312.40H401.00V314.80H404.20V315.20H410.60V316.50H414.80V319.00H419.00V321.20H425.40V322.20H459.20V322.20H459.90V328.10H501.20V328.10" fill="none" stroke="#46306e" stroke-width="1.5" stroke-linejoin="miter"/>
<path d="M328.30,278.30H335.60V279.90H342.08V280.70H344.54V282.30H347.01V284.70H350.20V287.00H353.49V288.60H356.30V289.50H359.20V290.50H362.10V291.50H364.00V292.90H366.00V294.80H367.90V297.20H369.80V299.60H371.70V300.60H374.60V301.60H376.50V303.00H378.50V304.00H381.30V304.40H383.30V305.40H385.20V307.80H397.90V308.10H401.00V309.20H404.20V309.50H409.50V311.60H415.90V312.70H420.10V315.90H422.20V319.00H423.30V321.20H427.50V321.20H432.80V325.00H433.40V331.30H458.20V331.30" fill="none" stroke="#3b5084" stroke-width="1.5" stroke-linejoin="miter"/>
<path d="M328.30,278.30H333.95V279.10H340.43V279.90H355.40V279.90H356.30V282.30H362.10V282.30H363.10V284.70H370.80V284.70H371.70V287.10H372.70V287.60H381.30V287.60H382.30V291.00H394.70V291.30H395.50V294.20H396.30V295.80H427.70V295.80H428.10V312.70H429.60V313.80H430.30V331.70H432.80V331.70" fill="none" stroke="#a02a4a" stroke-width="1.5" stroke-linejoin="miter"/>
<path d="M176.00,92.50v2.40M180.30,92.50v2.40M184.60,92.50v2.40M188.90,92.50v2.40M193.20,92.50v2.40M197.50,92.50v2.40M201.80,92.50v2.40M204.10,92.50v2.40" stroke="#74203e" stroke-width="1.2" fill="none"/>
<path d="M181.00,117.60v2.40M185.00,117.60v2.40M189.00,117.60v2.40M193.00,117.60v2.40M197.00,117.60v2.40M200.10,117.60v2.40" stroke="#343f5a" stroke-width="1.2" fill="none"/>
<path d="M435.60,74.80v2.40M439.30,74.80v2.40M443.00,74.80v2.40M446.70,74.80v2.40M450.40,74.80v2.40M454.10,74.80v2.40M457.80,74.80v2.40M461.50,74.80v2.40M465.00,74.80v2.40" stroke="#74203e" stroke-width="1.2" fill="none"/>
<path d="M440.30,92.30v2.40M443.90,92.30v2.40M447.50,92.30v2.40M451.10,92.30v2.40M454.70,92.30v2.40M458.30,92.30v2.40M461.90,92.30v2.40M466.00,92.30v2.40" stroke="#343f5a" stroke-width="1.2" fill="none"/>
<path d="M156.90,329.10v2.40M161.50,329.10v2.40M166.10,329.10v2.40M170.70,329.10v2.40M175.30,329.10v2.40M179.90,329.10v2.40M184.50,329.10v2.40M189.10,329.10v2.40M193.70,329.10v2.40M198.30,329.10v2.40M205.00,329.10v2.40" stroke="#74203e" stroke-width="1.2" fill="none"/>
<path d="M173.10,364.00v2.40M177.70,364.00v2.40M182.30,364.00v2.40M186.90,364.00v2.40M191.50,364.00v2.40M196.10,364.00v2.40M202.80,364.00v2.40" stroke="#343f5a" stroke-width="1.2" fill="none"/>
<path d="M191.90,396.10v2.40M220.00,396.10v2.40M240.90,396.10v2.40" stroke="#6e8a4e" stroke-width="1.2" fill="none"/>
<path d="M192.50,401.30v2.40M203.70,401.30v2.40M210.00,401.30v2.40M216.20,401.30v2.40M226.20,401.30v2.40M228.40,401.30v2.40" stroke="#2a1e38" stroke-width="1.2" fill="none"/>
<path d="M432.40,330.50v2.40" stroke="#74203e" stroke-width="1.2" fill="none"/>
<path d="M436.00,330.10v2.40M440.40,330.10v2.40M444.80,330.10v2.40M449.20,330.10v2.40M453.60,330.10v2.40M457.80,330.10v2.40" stroke="#343f5a" stroke-width="1.2" fill="none"/>
<path d="M468.80,326.90v2.40M479.20,326.90v2.40M483.30,326.90v2.40M500.80,326.90v2.40" stroke="#2a1e38" stroke-width="1.2" fill="none"/>
<path d="M447.00,340.10v2.40M470.00,340.10v2.40M491.50,340.10v2.40" stroke="#6e8a4e" stroke-width="1.2" fill="none"/>
<path d="M125.00,76.30v2.40M130.00,76.30v2.40M136.00,76.30v2.40M148.00,78.80v2.40M152.00,78.80v2.40M160.00,83.00v2.40M165.00,83.00v2.40" stroke="#74203e" stroke-width="1.2" fill="none"/>
<path d="M128.00,97.70v2.40M132.00,97.70v2.40M153.00,107.00v2.40M163.00,111.30v2.40M168.00,111.30v2.40M173.00,111.30v2.40" stroke="#343f5a" stroke-width="1.2" fill="none"/>
<path d="M368.00,52.90v2.40M372.00,52.90v2.40M383.00,56.10v2.40M388.00,56.10v2.40M392.00,56.10v2.40M396.00,56.10v2.40M400.00,56.10v2.40M410.00,64.00v2.40M414.00,64.00v2.40M418.00,64.00v2.40M422.00,64.00v2.40M426.00,64.00v2.40M429.00,64.00v2.40" stroke="#74203e" stroke-width="1.2" fill="none"/>
<path d="M360.00,58.90v2.40M364.00,58.90v2.40M400.00,78.70v2.40M404.00,78.70v2.40M408.00,78.70v2.40M415.00,80.40v2.40M425.00,83.40v2.40M429.00,83.40v2.40M433.00,83.40v2.40" stroke="#343f5a" stroke-width="1.2" fill="none"/>
<path d="M386.00,289.80v2.40M390.00,289.80v2.40M405.00,294.60v2.40M415.00,294.60v2.40M424.00,294.60v2.40" stroke="#74203e" stroke-width="1.2" fill="none"/>
<line x1="185.0" y1="166.8" x2="194.2" y2="166.8" stroke="#a02a4a" stroke-width="1.5"/>
<text x="0.00" y="0.00" font-size="7.65" fill="#1a1a1a" stroke="#1a1a1a" transform="translate(197.60,169.60) scale(1,1.12)">R/FOXP1 low</text>
<line x1="185.0" y1="176.6" x2="194.2" y2="176.6" stroke="#42527a" stroke-width="1.5"/>
<text x="0.00" y="0.00" font-size="7.65" fill="#1a1a1a" stroke="#1a1a1a" transform="translate(197.60,179.40) scale(1,1.12)">R/FOXP1 high</text>
<line x1="445.7" y1="166.8" x2="454.9" y2="166.8" stroke="#a02a4a" stroke-width="1.5"/>
<text x="0.00" y="0.00" font-size="7.65" fill="#1a1a1a" stroke="#1a1a1a" transform="translate(458.30,169.60) scale(1,1.12)">R/FOXP1 low</text>
<line x1="445.7" y1="176.6" x2="454.9" y2="176.6" stroke="#42527a" stroke-width="1.5"/>
<text x="0.00" y="0.00" font-size="7.65" fill="#1a1a1a" stroke="#1a1a1a" transform="translate(458.30,179.40) scale(1,1.12)">R/FOXP1 high</text>
<line x1="176.8" y1="280.8" x2="186.1" y2="280.8" stroke="#a02a4a" stroke-width="1.5"/>
<text x="0.00" y="0.00" font-size="7.65" fill="#1a1a1a" stroke="#1a1a1a" transform="translate(189.70,283.60) scale(1,1.12)">R/FOXP1 low</text>
<line x1="176.8" y1="290.9" x2="186.1" y2="290.9" stroke="#42527a" stroke-width="1.5"/>
<text x="0.00" y="0.00" font-size="7.65" fill="#1a1a1a" stroke="#1a1a1a" transform="translate(189.70,293.70) scale(1,1.12)">R/FOXP1 high</text>
<line x1="176.8" y1="300.8" x2="186.1" y2="300.8" stroke="#88a865" stroke-width="1.5"/>
<text x="0.00" y="0.00" font-size="7.65" fill="#1a1a1a" stroke="#1a1a1a" transform="translate(189.70,303.60) scale(1,1.12)">no R/FOXP1 low</text>
<line x1="176.8" y1="310.7" x2="186.1" y2="310.7" stroke="#46306e" stroke-width="1.5"/>
<text x="0.00" y="0.00" font-size="7.65" fill="#1a1a1a" stroke="#1a1a1a" transform="translate(189.70,313.50) scale(1,1.12)">no R/FOXP1 high</text>
<line x1="426.3" y1="365.7" x2="435.3" y2="365.7" stroke="#a02a4a" stroke-width="1.5"/>
<text x="0.00" y="0.00" font-size="7.65" fill="#1a1a1a" stroke="#1a1a1a" transform="translate(438.70,368.50) scale(1,1.12)">R/FOXP1 low</text>
<line x1="426.3" y1="375.9" x2="435.3" y2="375.9" stroke="#42527a" stroke-width="1.5"/>
<text x="0.00" y="0.00" font-size="7.65" fill="#1a1a1a" stroke="#1a1a1a" transform="translate(438.70,378.70) scale(1,1.12)">R/FOXP1 high</text>
<line x1="426.3" y1="386.0" x2="435.3" y2="386.0" stroke="#88a865" stroke-width="1.5"/>
<text x="0.00" y="0.00" font-size="7.65" fill="#1a1a1a" stroke="#1a1a1a" transform="translate(438.70,388.80) scale(1,1.12)">no R/FOXP1 low</text>
<line x1="426.3" y1="396.2" x2="435.3" y2="396.2" stroke="#46306e" stroke-width="1.5"/>
<text x="0.00" y="0.00" font-size="7.65" fill="#1a1a1a" stroke="#1a1a1a" transform="translate(438.70,399.00) scale(1,1.12)">no R/FOXP1 high</text>
<text x="68.40" y="178.00" font-size="7.5" fill="#1a1a1a" stroke="#1a1a1a"><tspan font-style="italic">P</tspan> <tspan fill="#8a8a8a" stroke="#8a8a8a">=</tspan> 0.035</text>
<text x="329.20" y="178.00" font-size="7.5" fill="#1a1a1a" stroke="#1a1a1a"><tspan font-style="italic">P</tspan> <tspan fill="#8a8a8a" stroke="#8a8a8a">=</tspan> 0.133</text>
<text x="68.70" y="410.20" font-size="7.5" fill="#1a1a1a" stroke="#1a1a1a">no R: HR 1.15, <tspan font-style="italic">P</tspan> <tspan fill="#8a8a8a" stroke="#8a8a8a">=</tspan> 0.44</text>
<text x="68.70" y="418.90" font-size="7.5" fill="#1a1a1a" stroke="#1a1a1a">R: HR 1.95, <tspan font-style="italic">P</tspan> <tspan fill="#8a8a8a" stroke="#8a8a8a">=</tspan> 0.017</text>
<text x="329.20" y="411.40" font-size="7.5" fill="#1a1a1a" stroke="#1a1a1a">no R: HR 0.68, <tspan font-style="italic">P</tspan><tspan fill="#8a8a8a" stroke="#8a8a8a">=</tspan>0.17</text>
<text x="329.20" y="420.30" font-size="7.5" fill="#1a1a1a" stroke="#1a1a1a">R: HR 1.82, <tspan font-style="italic">P</tspan><tspan fill="#8a8a8a" stroke="#8a8a8a">=</tspan>0.14</text>
<g stroke-width="0.12">
<text x="59.00" y="224.60" font-size="6.5" text-anchor="end" fill="#1a1a1a" stroke="#1a1a1a">R/FOXP1 low</text>
<text x="68.20" y="224.60" font-size="6.5" text-anchor="middle" fill="#1a1a1a" stroke="#1a1a1a">66</text>
<text x="80.13" y="224.60" font-size="6.5" text-anchor="middle" fill="#1a1a1a" stroke="#1a1a1a">59</text>
<text x="92.06" y="224.60" font-size="6.5" text-anchor="middle" fill="#1a1a1a" stroke="#1a1a1a">52</text>
<text x="103.99" y="224.60" font-size="6.5" text-anchor="middle" fill="#1a1a1a" stroke="#1a1a1a">50</text>
<text x="115.92" y="224.60" font-size="6.5" text-anchor="middle" fill="#1a1a1a" stroke="#1a1a1a">45</text>
<text x="127.85" y="224.60" font-size="6.5" text-anchor="middle" fill="#1a1a1a" stroke="#1a1a1a">43</text>
<text x="139.78" y="224.60" font-size="6.5" text-anchor="middle" fill="#1a1a1a" stroke="#1a1a1a">40</text>
<text x="151.71" y="224.60" font-size="6.5" text-anchor="middle" fill="#1a1a1a" stroke="#1a1a1a">34</text>
<text x="163.64" y="224.60" font-size="6.5" text-anchor="middle" fill="#1a1a1a" stroke="#1a1a1a">26</text>
<text x="175.57" y="224.60" font-size="6.5" text-anchor="middle" fill="#1a1a1a" stroke="#1a1a1a">14</text>
<text x="187.50" y="224.60" font-size="6.5" text-anchor="middle" fill="#1a1a1a" stroke="#1a1a1a">6</text>
<text x="199.43" y="224.60" font-size="6.5" text-anchor="middle" fill="#1a1a1a" stroke="#1a1a1a">1</text>
<text x="211.36" y="224.60" font-size="6.5" text-anchor="middle" fill="#1a1a1a" stroke="#1a1a1a">0</text>
<text x="223.29" y="224.60" font-size="6.5" text-anchor="middle" fill="#1a1a1a" stroke="#1a1a1a">0</text>
<text x="235.22" y="224.60" font-size="6.5" text-anchor="middle" fill="#1a1a1a" stroke="#1a1a1a">0</text>
<text x="247.15" y="224.60" font-size="6.5" text-anchor="middle" fill="#1a1a1a" stroke="#1a1a1a">0</text>
<text x="59.00" y="234.60" font-size="6.5" text-anchor="end" fill="#1a1a1a" stroke="#1a1a1a">R/FOXP1 high</text>
<text x="68.20" y="234.60" font-size="6.5" text-anchor="middle" fill="#1a1a1a" stroke="#1a1a1a">76</text>
<text x="80.13" y="234.60" font-size="6.5" text-anchor="middle" fill="#1a1a1a" stroke="#1a1a1a">61</text>
<text x="92.06" y="234.60" font-size="6.5" text-anchor="middle" fill="#1a1a1a" stroke="#1a1a1a">53</text>
<text x="103.99" y="234.60" font-size="6.5" text-anchor="middle" fill="#1a1a1a" stroke="#1a1a1a">49</text>
<text x="115.92" y="234.60" font-size="6.5" text-anchor="middle" fill="#1a1a1a" stroke="#1a1a1a">44</text>
<text x="127.85" y="234.60" font-size="6.5" text-anchor="middle" fill="#1a1a1a" stroke="#1a1a1a">41</text>
<text x="139.78" y="234.60" font-size="6.5" text-anchor="middle" fill="#1a1a1a" stroke="#1a1a1a">38</text>
<text x="151.71" y="234.60" font-size="6.5" text-anchor="middle" fill="#1a1a1a" stroke="#1a1a1a">30</text>
<text x="163.64" y="234.60" font-size="6.5" text-anchor="middle" fill="#1a1a1a" stroke="#1a1a1a">19</text>
<text x="175.57" y="234.60" font-size="6.5" text-anchor="middle" fill="#1a1a1a" stroke="#1a1a1a">11</text>
<text x="187.50" y="234.60" font-size="6.5" text-anchor="middle" fill="#1a1a1a" stroke="#1a1a1a">4</text>
<text x="199.43" y="234.60" font-size="6.5" text-anchor="middle" fill="#1a1a1a" stroke="#1a1a1a">1</text>
<text x="211.36" y="234.60" font-size="6.5" text-anchor="middle" fill="#1a1a1a" stroke="#1a1a1a">0</text>
<text x="223.29" y="234.60" font-size="6.5" text-anchor="middle" fill="#1a1a1a" stroke="#1a1a1a">0</text>
<text x="235.22" y="234.60" font-size="6.5" text-anchor="middle" fill="#1a1a1a" stroke="#1a1a1a">0</text>
<text x="247.15" y="234.60" font-size="6.5" text-anchor="middle" fill="#1a1a1a" stroke="#1a1a1a">0</text>
</g>
<g stroke-width="0.12">
<text x="319.70" y="224.60" font-size="6.5" text-anchor="end" fill="#1a1a1a" stroke="#1a1a1a">R/FOXP1 low</text>
<text x="329.10" y="224.60" font-size="6.5" text-anchor="middle" fill="#1a1a1a" stroke="#1a1a1a">66</text>
<text x="341.05" y="224.60" font-size="6.5" text-anchor="middle" fill="#1a1a1a" stroke="#1a1a1a">63</text>
<text x="352.99" y="224.60" font-size="6.5" text-anchor="middle" fill="#1a1a1a" stroke="#1a1a1a">60</text>
<text x="364.94" y="224.60" font-size="6.5" text-anchor="middle" fill="#1a1a1a" stroke="#1a1a1a">57</text>
<text x="376.89" y="224.60" font-size="6.5" text-anchor="middle" fill="#1a1a1a" stroke="#1a1a1a">54</text>
<text x="388.84" y="224.60" font-size="6.5" text-anchor="middle" fill="#1a1a1a" stroke="#1a1a1a">52</text>
<text x="400.78" y="224.60" font-size="6.5" text-anchor="middle" fill="#1a1a1a" stroke="#1a1a1a">49</text>
<text x="412.73" y="224.60" font-size="6.5" text-anchor="middle" fill="#1a1a1a" stroke="#1a1a1a">39</text>
<text x="424.68" y="224.60" font-size="6.5" text-anchor="middle" fill="#1a1a1a" stroke="#1a1a1a">31</text>
<text x="436.62" y="224.60" font-size="6.5" text-anchor="middle" fill="#1a1a1a" stroke="#1a1a1a">15</text>
<text x="448.57" y="224.60" font-size="6.5" text-anchor="middle" fill="#1a1a1a" stroke="#1a1a1a">6</text>
<text x="460.52" y="224.60" font-size="6.5" text-anchor="middle" fill="#1a1a1a" stroke="#1a1a1a">1</text>
<text x="472.46" y="224.60" font-size="6.5" text-anchor="middle" fill="#1a1a1a" stroke="#1a1a1a">0</text>
<text x="484.41" y="224.60" font-size="6.5" text-anchor="middle" fill="#1a1a1a" stroke="#1a1a1a">0</text>
<text x="496.36" y="224.60" font-size="6.5" text-anchor="middle" fill="#1a1a1a" stroke="#1a1a1a">0</text>
<text x="508.31" y="224.60" font-size="6.5" text-anchor="middle" fill="#1a1a1a" stroke="#1a1a1a">0</text>
<text x="319.70" y="234.60" font-size="6.5" text-anchor="end" fill="#1a1a1a" stroke="#1a1a1a">R/FOXP1 high</text>
<text x="329.10" y="234.60" font-size="6.5" text-anchor="middle" fill="#1a1a1a" stroke="#1a1a1a">76</text>
<text x="341.05" y="234.60" font-size="6.5" text-anchor="middle" fill="#1a1a1a" stroke="#1a1a1a">69</text>
<text x="352.99" y="234.60" font-size="6.5" text-anchor="middle" fill="#1a1a1a" stroke="#1a1a1a">65</text>
<text x="364.94" y="234.60" font-size="6.5" text-anchor="middle" fill="#1a1a1a" stroke="#1a1a1a">61</text>
<text x="376.89" y="234.60" font-size="6.5" text-anchor="middle" fill="#1a1a1a" stroke="#1a1a1a">58</text>
<text x="388.84" y="234.60" font-size="6.5" text-anchor="middle" fill="#1a1a1a" stroke="#1a1a1a">54</text>
<text x="400.78" y="234.60" font-size="6.5" text-anchor="middle" fill="#1a1a1a" stroke="#1a1a1a">50</text>
<text x="412.73" y="234.60" font-size="6.5" text-anchor="middle" fill="#1a1a1a" stroke="#1a1a1a">43</text>
<text x="424.68" y="234.60" font-size="6.5" text-anchor="middle" fill="#1a1a1a" stroke="#1a1a1a">31</text>
<text x="436.62" y="234.60" font-size="6.5" text-anchor="middle" fill="#1a1a1a" stroke="#1a1a1a">21</text>
<text x="448.57" y="234.60" font-size="6.5" text-anchor="middle" fill="#1a1a1a" stroke="#1a1a1a">11</text>
<text x="460.52" y="234.60" font-size="6.5" text-anchor="middle" fill="#1a1a1a" stroke="#1a1a1a">3</text>
<text x="472.46" y="234.60" font-size="6.5" text-anchor="middle" fill="#1a1a1a" stroke="#1a1a1a">0</text>
<text x="484.41" y="234.60" font-size="6.5" text-anchor="middle" fill="#1a1a1a" stroke="#1a1a1a">0</text>
<text x="496.36" y="234.60" font-size="6.5" text-anchor="middle" fill="#1a1a1a" stroke="#1a1a1a">0</text>
<text x="508.31" y="234.60" font-size="6.5" text-anchor="middle" fill="#1a1a1a" stroke="#1a1a1a">0</text>
</g>
<g stroke-width="0.12">
<text x="59.00" y="466.00" font-size="6.5" text-anchor="end" fill="#1a1a1a" stroke="#1a1a1a">no R/FOXP1 low</text>
<text x="67.90" y="466.00" font-size="6.5" text-anchor="middle" fill="#1a1a1a" stroke="#1a1a1a">75</text>
<text x="79.82" y="466.00" font-size="6.5" text-anchor="middle" fill="#1a1a1a" stroke="#1a1a1a">38</text>
<text x="91.74" y="466.00" font-size="6.5" text-anchor="middle" fill="#1a1a1a" stroke="#1a1a1a">28</text>
<text x="103.66" y="466.00" font-size="6.5" text-anchor="middle" fill="#1a1a1a" stroke="#1a1a1a">21</text>
<text x="115.58" y="466.00" font-size="6.5" text-anchor="middle" fill="#1a1a1a" stroke="#1a1a1a">17</text>
<text x="127.50" y="466.00" font-size="6.5" text-anchor="middle" fill="#1a1a1a" stroke="#1a1a1a">15</text>
<text x="139.42" y="466.00" font-size="6.5" text-anchor="middle" fill="#1a1a1a" stroke="#1a1a1a">14</text>
<text x="151.34" y="466.00" font-size="6.5" text-anchor="middle" fill="#1a1a1a" stroke="#1a1a1a">9</text>
<text x="163.26" y="466.00" font-size="6.5" text-anchor="middle" fill="#1a1a1a" stroke="#1a1a1a">7</text>
<text x="175.18" y="466.00" font-size="6.5" text-anchor="middle" fill="#1a1a1a" stroke="#1a1a1a">6</text>
<text x="187.10" y="466.00" font-size="6.5" text-anchor="middle" fill="#1a1a1a" stroke="#1a1a1a">4</text>
<text x="199.02" y="466.00" font-size="6.5" text-anchor="middle" fill="#1a1a1a" stroke="#1a1a1a">2</text>
<text x="210.94" y="466.00" font-size="6.5" text-anchor="middle" fill="#1a1a1a" stroke="#1a1a1a">2</text>
<text x="222.86" y="466.00" font-size="6.5" text-anchor="middle" fill="#1a1a1a" stroke="#1a1a1a">1</text>
<text x="234.78" y="466.00" font-size="6.5" text-anchor="middle" fill="#1a1a1a" stroke="#1a1a1a">1</text>
<text x="246.70" y="466.00" font-size="6.5" text-anchor="middle" fill="#1a1a1a" stroke="#1a1a1a">0</text>
<text x="59.00" y="476.40" font-size="6.5" text-anchor="end" fill="#1a1a1a" stroke="#1a1a1a">no R/FOXP1 high</text>
<text x="67.90" y="476.40" font-size="6.5" text-anchor="middle" fill="#1a1a1a" stroke="#1a1a1a" textLength="9.6" lengthAdjust="spacingAndGlyphs">115</text>
<text x="79.82" y="476.40" font-size="6.5" text-anchor="middle" fill="#1a1a1a" stroke="#1a1a1a">67</text>
<text x="91.74" y="476.40" font-size="6.5" text-anchor="middle" fill="#1a1a1a" stroke="#1a1a1a">49</text>
<text x="103.66" y="476.40" font-size="6.5" text-anchor="middle" fill="#1a1a1a" stroke="#1a1a1a">33</text>
<text x="115.58" y="476.40" font-size="6.5" text-anchor="middle" fill="#1a1a1a" stroke="#1a1a1a">20</text>
<text x="127.50" y="476.40" font-size="6.5" text-anchor="middle" fill="#1a1a1a" stroke="#1a1a1a">16</text>
<text x="139.42" y="476.40" font-size="6.5" text-anchor="middle" fill="#1a1a1a" stroke="#1a1a1a">13</text>
<text x="151.34" y="476.40" font-size="6.5" text-anchor="middle" fill="#1a1a1a" stroke="#1a1a1a">13</text>
<text x="163.26" y="476.40" font-size="6.5" text-anchor="middle" fill="#1a1a1a" stroke="#1a1a1a">9</text>
<text x="175.18" y="476.40" font-size="6.5" text-anchor="middle" fill="#1a1a1a" stroke="#1a1a1a">6</text>
<text x="187.10" y="476.40" font-size="6.5" text-anchor="middle" fill="#1a1a1a" stroke="#1a1a1a">6</text>
<text x="199.02" y="476.40" font-size="6.5" text-anchor="middle" fill="#1a1a1a" stroke="#1a1a1a">5</text>
<text x="210.94" y="476.40" font-size="6.5" text-anchor="middle" fill="#1a1a1a" stroke="#1a1a1a">3</text>
<text x="222.86" y="476.40" font-size="6.5" text-anchor="middle" fill="#1a1a1a" stroke="#1a1a1a">1</text>
<text x="234.78" y="476.40" font-size="6.5" text-anchor="middle" fill="#1a1a1a" stroke="#1a1a1a">0</text>
<text x="246.70" y="476.40" font-size="6.5" text-anchor="middle" fill="#1a1a1a" stroke="#1a1a1a">0</text>
<text x="59.00" y="486.90" font-size="6.5" text-anchor="end" fill="#1a1a1a" stroke="#1a1a1a">R/FOXP1 low</text>
<text x="67.90" y="486.90" font-size="6.5" text-anchor="middle" fill="#1a1a1a" stroke="#1a1a1a">71</text>
<text x="79.82" y="486.90" font-size="6.5" text-anchor="middle" fill="#1a1a1a" stroke="#1a1a1a">51</text>
<text x="91.74" y="486.90" font-size="6.5" text-anchor="middle" fill="#1a1a1a" stroke="#1a1a1a">47</text>
<text x="103.66" y="486.90" font-size="6.5" text-anchor="middle" fill="#1a1a1a" stroke="#1a1a1a">41</text>
<text x="115.58" y="486.90" font-size="6.5" text-anchor="middle" fill="#1a1a1a" stroke="#1a1a1a">38</text>
<text x="127.50" y="486.90" font-size="6.5" text-anchor="middle" fill="#1a1a1a" stroke="#1a1a1a">30</text>
<text x="139.42" y="486.90" font-size="6.5" text-anchor="middle" fill="#1a1a1a" stroke="#1a1a1a">23</text>
<text x="151.34" y="486.90" font-size="6.5" text-anchor="middle" fill="#1a1a1a" stroke="#1a1a1a">18</text>
<text x="163.26" y="486.90" font-size="6.5" text-anchor="middle" fill="#1a1a1a" stroke="#1a1a1a">12</text>
<text x="175.18" y="486.90" font-size="6.5" text-anchor="middle" fill="#1a1a1a" stroke="#1a1a1a">4</text>
<text x="187.10" y="486.90" font-size="6.5" text-anchor="middle" fill="#1a1a1a" stroke="#1a1a1a">1</text>
<text x="199.02" y="486.90" font-size="6.5" text-anchor="middle" fill="#1a1a1a" stroke="#1a1a1a">1</text>
<text x="210.94" y="486.90" font-size="6.5" text-anchor="middle" fill="#1a1a1a" stroke="#1a1a1a">0</text>
<text x="222.86" y="486.90" font-size="6.5" text-anchor="middle" fill="#1a1a1a" stroke="#1a1a1a">0</text>
<text x="234.78" y="486.90" font-size="6.5" text-anchor="middle" fill="#1a1a1a" stroke="#1a1a1a">0</text>
<text x="246.70" y="486.90" font-size="6.5" text-anchor="middle" fill="#1a1a1a" stroke="#1a1a1a">0</text>
<text x="59.00" y="497.30" font-size="6.5" text-anchor="end" fill="#1a1a1a" stroke="#1a1a1a">R/FOXP1 high</text>
<text x="67.90" y="497.30" font-size="6.5" text-anchor="middle" fill="#1a1a1a" stroke="#1a1a1a" textLength="9.6" lengthAdjust="spacingAndGlyphs">128</text>
<text x="79.82" y="497.30" font-size="6.5" text-anchor="middle" fill="#1a1a1a" stroke="#1a1a1a">86</text>
<text x="91.74" y="497.30" font-size="6.5" text-anchor="middle" fill="#1a1a1a" stroke="#1a1a1a">69</text>
<text x="103.66" y="497.30" font-size="6.5" text-anchor="middle" fill="#1a1a1a" stroke="#1a1a1a">58</text>
<text x="115.58" y="497.30" font-size="6.5" text-anchor="middle" fill="#1a1a1a" stroke="#1a1a1a">48</text>
<text x="127.50" y="497.30" font-size="6.5" text-anchor="middle" fill="#1a1a1a" stroke="#1a1a1a">42</text>
<text x="139.42" y="497.30" font-size="6.5" text-anchor="middle" fill="#1a1a1a" stroke="#1a1a1a">35</text>
<text x="151.34" y="497.30" font-size="6.5" text-anchor="middle" fill="#1a1a1a" stroke="#1a1a1a">27</text>
<text x="163.26" y="497.30" font-size="6.5" text-anchor="middle" fill="#1a1a1a" stroke="#1a1a1a">21</text>
<text x="175.18" y="497.30" font-size="6.5" text-anchor="middle" fill="#1a1a1a" stroke="#1a1a1a">10</text>
<text x="187.10" y="497.30" font-size="6.5" text-anchor="middle" fill="#1a1a1a" stroke="#1a1a1a">5</text>
<text x="199.02" y="497.30" font-size="6.5" text-anchor="middle" fill="#1a1a1a" stroke="#1a1a1a">2</text>
<text x="210.94" y="497.30" font-size="6.5" text-anchor="middle" fill="#1a1a1a" stroke="#1a1a1a">0</text>
<text x="222.86" y="497.30" font-size="6.5" text-anchor="middle" fill="#1a1a1a" stroke="#1a1a1a">0</text>
<text x="234.78" y="497.30" font-size="6.5" text-anchor="middle" fill="#1a1a1a" stroke="#1a1a1a">0</text>
<text x="246.70" y="497.30" font-size="6.5" text-anchor="middle" fill="#1a1a1a" stroke="#1a1a1a">0</text>
</g>
<g stroke-width="0.12">
<text x="319.40" y="466.00" font-size="6.5" text-anchor="end" fill="#1a1a1a" stroke="#1a1a1a">no R/FOXP1 low</text>
<text x="326.80" y="466.00" font-size="6.5" text-anchor="middle" fill="#1a1a1a" stroke="#1a1a1a">75</text>
<text x="339.02" y="466.00" font-size="6.5" text-anchor="middle" fill="#1a1a1a" stroke="#1a1a1a">52</text>
<text x="350.24" y="466.00" font-size="6.5" text-anchor="middle" fill="#1a1a1a" stroke="#1a1a1a">46</text>
<text x="361.46" y="466.00" font-size="6.5" text-anchor="middle" fill="#1a1a1a" stroke="#1a1a1a">40</text>
<text x="372.68" y="466.00" font-size="6.5" text-anchor="middle" fill="#1a1a1a" stroke="#1a1a1a">39</text>
<text x="383.90" y="466.00" font-size="6.5" text-anchor="middle" fill="#1a1a1a" stroke="#1a1a1a">33</text>
<text x="395.12" y="466.00" font-size="6.5" text-anchor="middle" fill="#1a1a1a" stroke="#1a1a1a">31</text>
<text x="406.34" y="466.00" font-size="6.5" text-anchor="middle" fill="#1a1a1a" stroke="#1a1a1a">25</text>
<text x="417.56" y="466.00" font-size="6.5" text-anchor="middle" fill="#1a1a1a" stroke="#1a1a1a">23</text>
<text x="428.78" y="466.00" font-size="6.5" text-anchor="middle" fill="#1a1a1a" stroke="#1a1a1a">21</text>
<text x="440.00" y="466.00" font-size="6.5" text-anchor="middle" fill="#1a1a1a" stroke="#1a1a1a">15</text>
<text x="451.22" y="466.00" font-size="6.5" text-anchor="middle" fill="#1a1a1a" stroke="#1a1a1a">9</text>
<text x="462.44" y="466.00" font-size="6.5" text-anchor="middle" fill="#1a1a1a" stroke="#1a1a1a">6</text>
<text x="473.66" y="466.00" font-size="6.5" text-anchor="middle" fill="#1a1a1a" stroke="#1a1a1a">3</text>
<text x="484.88" y="466.00" font-size="6.5" text-anchor="middle" fill="#1a1a1a" stroke="#1a1a1a">2</text>
<text x="496.10" y="466.00" font-size="6.5" text-anchor="middle" fill="#1a1a1a" stroke="#1a1a1a">0</text>
<text x="319.40" y="476.40" font-size="6.5" text-anchor="end" fill="#1a1a1a" stroke="#1a1a1a">no R/FOXP1 high</text>
<text x="326.80" y="476.40" font-size="6.5" text-anchor="middle" fill="#1a1a1a" stroke="#1a1a1a" textLength="9.6" lengthAdjust="spacingAndGlyphs">116</text>
<text x="339.02" y="476.40" font-size="6.5" text-anchor="middle" fill="#1a1a1a" stroke="#1a1a1a">92</text>
<text x="350.24" y="476.40" font-size="6.5" text-anchor="middle" fill="#1a1a1a" stroke="#1a1a1a">86</text>
<text x="361.46" y="476.40" font-size="6.5" text-anchor="middle" fill="#1a1a1a" stroke="#1a1a1a">80</text>
<text x="372.68" y="476.40" font-size="6.5" text-anchor="middle" fill="#1a1a1a" stroke="#1a1a1a">74</text>
<text x="383.90" y="476.40" font-size="6.5" text-anchor="middle" fill="#1a1a1a" stroke="#1a1a1a">67</text>
<text x="395.12" y="476.40" font-size="6.5" text-anchor="middle" fill="#1a1a1a" stroke="#1a1a1a">67</text>
<text x="406.34" y="476.40" font-size="6.5" text-anchor="middle" fill="#1a1a1a" stroke="#1a1a1a">55</text>
<text x="417.56" y="476.40" font-size="6.5" text-anchor="middle" fill="#1a1a1a" stroke="#1a1a1a">48</text>
<text x="428.78" y="476.40" font-size="6.5" text-anchor="middle" fill="#1a1a1a" stroke="#1a1a1a">41</text>
<text x="440.00" y="476.40" font-size="6.5" text-anchor="middle" fill="#1a1a1a" stroke="#1a1a1a">38</text>
<text x="451.22" y="476.40" font-size="6.5" text-anchor="middle" fill="#1a1a1a" stroke="#1a1a1a">29</text>
<text x="462.44" y="476.40" font-size="6.5" text-anchor="middle" fill="#1a1a1a" stroke="#1a1a1a">13</text>
<text x="473.66" y="476.40" font-size="6.5" text-anchor="middle" fill="#1a1a1a" stroke="#1a1a1a">5</text>
<text x="484.88" y="476.40" font-size="6.5" text-anchor="middle" fill="#1a1a1a" stroke="#1a1a1a">1</text>
<text x="496.10" y="476.40" font-size="6.5" text-anchor="middle" fill="#1a1a1a" stroke="#1a1a1a">1</text>
<text x="319.40" y="486.90" font-size="6.5" text-anchor="end" fill="#1a1a1a" stroke="#1a1a1a">R/FOXP1 low</text>
<text x="326.80" y="486.90" font-size="6.5" text-anchor="middle" fill="#1a1a1a" stroke="#1a1a1a">72</text>
<text x="339.02" y="486.90" font-size="6.5" text-anchor="middle" fill="#1a1a1a" stroke="#1a1a1a">54</text>
<text x="350.24" y="486.90" font-size="6.5" text-anchor="middle" fill="#1a1a1a" stroke="#1a1a1a">54</text>
<text x="361.46" y="486.90" font-size="6.5" text-anchor="middle" fill="#1a1a1a" stroke="#1a1a1a">51</text>
<text x="372.68" y="486.90" font-size="6.5" text-anchor="middle" fill="#1a1a1a" stroke="#1a1a1a">46</text>
<text x="383.90" y="486.90" font-size="6.5" text-anchor="middle" fill="#1a1a1a" stroke="#1a1a1a">39</text>
<text x="395.12" y="486.90" font-size="6.5" text-anchor="middle" fill="#1a1a1a" stroke="#1a1a1a">30</text>
<text x="406.34" y="486.90" font-size="6.5" text-anchor="middle" fill="#1a1a1a" stroke="#1a1a1a">23</text>
<text x="417.56" y="486.90" font-size="6.5" text-anchor="middle" fill="#1a1a1a" stroke="#1a1a1a">16</text>
<text x="428.78" y="486.90" font-size="6.5" text-anchor="middle" fill="#1a1a1a" stroke="#1a1a1a">6</text>
<text x="440.00" y="486.90" font-size="6.5" text-anchor="middle" fill="#1a1a1a" stroke="#1a1a1a">3</text>
<text x="451.22" y="486.90" font-size="6.5" text-anchor="middle" fill="#1a1a1a" stroke="#1a1a1a">2</text>
<text x="462.44" y="486.90" font-size="6.5" text-anchor="middle" fill="#1a1a1a" stroke="#1a1a1a">0</text>
<text x="473.66" y="486.90" font-size="6.5" text-anchor="middle" fill="#1a1a1a" stroke="#1a1a1a">0</text>
<text x="484.88" y="486.90" font-size="6.5" text-anchor="middle" fill="#1a1a1a" stroke="#1a1a1a">0</text>
<text x="496.10" y="486.90" font-size="6.5" text-anchor="middle" fill="#1a1a1a" stroke="#1a1a1a">0</text>
<text x="319.40" y="497.30" font-size="6.5" text-anchor="end" fill="#1a1a1a" stroke="#1a1a1a">R/FOXP1 high</text>
<text x="326.80" y="497.30" font-size="6.5" text-anchor="middle" fill="#1a1a1a" stroke="#1a1a1a" textLength="9.6" lengthAdjust="spacingAndGlyphs">132</text>
<text x="339.02" y="497.30" font-size="6.5" text-anchor="middle" fill="#1a1a1a" stroke="#1a1a1a" textLength="9.6" lengthAdjust="spacingAndGlyphs">100</text>
<text x="350.24" y="497.30" font-size="6.5" text-anchor="middle" fill="#1a1a1a" stroke="#1a1a1a">93</text>
<text x="361.46" y="497.30" font-size="6.5" text-anchor="middle" fill="#1a1a1a" stroke="#1a1a1a">86</text>
<text x="372.68" y="497.30" font-size="6.5" text-anchor="middle" fill="#1a1a1a" stroke="#1a1a1a">76</text>
<text x="383.90" y="497.30" font-size="6.5" text-anchor="middle" fill="#1a1a1a" stroke="#1a1a1a">69</text>
<text x="395.12" y="497.30" font-size="6.5" text-anchor="middle" fill="#1a1a1a" stroke="#1a1a1a">64</text>
<text x="406.34" y="497.30" font-size="6.5" text-anchor="middle" fill="#1a1a1a" stroke="#1a1a1a">49</text>
<text x="417.56" y="497.30" font-size="6.5" text-anchor="middle" fill="#1a1a1a" stroke="#1a1a1a">39</text>
<text x="428.78" y="497.30" font-size="6.5" text-anchor="middle" fill="#1a1a1a" stroke="#1a1a1a">20</text>
<text x="440.00" y="497.30" font-size="6.5" text-anchor="middle" fill="#1a1a1a" stroke="#1a1a1a">10</text>
<text x="451.22" y="497.30" font-size="6.5" text-anchor="middle" fill="#1a1a1a" stroke="#1a1a1a">4</text>
<text x="462.44" y="497.30" font-size="6.5" text-anchor="middle" fill="#1a1a1a" stroke="#1a1a1a">0</text>
<text x="473.66" y="497.30" font-size="6.5" text-anchor="middle" fill="#1a1a1a" stroke="#1a1a1a">0</text>
<text x="484.88" y="497.30" font-size="6.5" text-anchor="middle" fill="#1a1a1a" stroke="#1a1a1a">0</text>
<text x="496.10" y="497.30" font-size="6.5" text-anchor="middle" fill="#1a1a1a" stroke="#1a1a1a">0</text>
</g>
<rect x="0.75" y="0.75" width="518.5" height="503.5" fill="none" stroke="#000" stroke-width="1.5"/>
</g></svg>
</body></html>
